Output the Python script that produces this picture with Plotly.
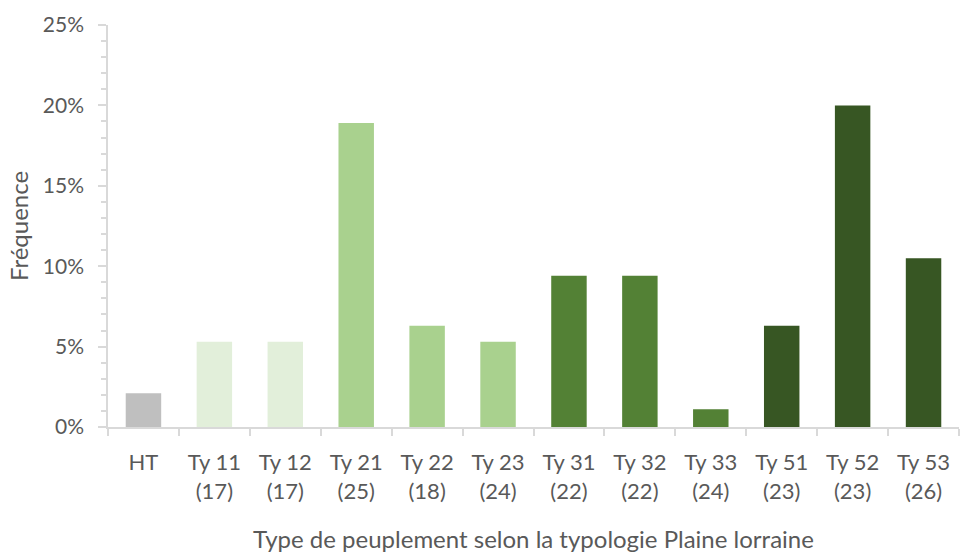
import plotly.graph_objs as go

categories = ["HT", "Ty 11<br>(17)", "Ty 12<br>(17)", "Ty 21<br>(25)", "Ty 22<br>(18)",
              "Ty 23<br>(24)", "Ty 31<br>(22)", "Ty 32<br>(22)", "Ty 33<br>(24)",
              "Ty 51<br>(23)", "Ty 52<br>(23)", "Ty 53<br>(26)"]
frequences = [0.021, 0.053, 0.053, 0.189, 0.063, 0.053, 0.094, 0.094, 0.011, 0.063, 0.200, 0.105]
bar_colors = ["#bfbfbf", "#e2efda", "#e2efda", "#a9d18e", "#a9d18e", "#a9d18e",
              "#538135", "#538135", "#538135", "#375623", "#375623", "#375623"]

font_family = "Lato, 'Open Sans', sans-serif"
axis_grey = "#d9d9d9"
text_grey = "#595959"

fig = go.Figure()

fig.add_trace(go.Bar(
    x=categories,
    y=frequences,
    marker=dict(color=bar_colors, line=dict(width=0)),
    hovertemplate="%{x}: %{y:.1%}<extra></extra>",
))

fig.update_layout(
    width=962,
    height=553,
    margin=dict(l=108, r=3, t=25, b=126),
    plot_bgcolor="white",
    paper_bgcolor="white",
    bargap=0.5,
    showlegend=False,
    font=dict(family=font_family, color=text_grey, size=21),
    xaxis=dict(
        title=dict(text="Type de peuplement selon la typologie Plaine lorraine",
                   font=dict(size=24, color=text_grey), standoff=30),
        showline=True,
        linecolor=axis_grey,
        linewidth=1.5,
        ticks="outside",
        tickson="boundaries",
        ticklen=7,
        tickcolor=axis_grey,
        tickwidth=1.5,
        showgrid=False,
        tickfont=dict(size=22, color=text_grey),
        ticklabelstandoff=15,
        automargin=False,
    ),
    yaxis=dict(
        title=dict(text="Fréquence", font=dict(size=24, color=text_grey), standoff=7),
        range=[0, 0.25],
        dtick=0.05,
        tickformat=".0%",
        showline=True,
        linecolor=axis_grey,
        linewidth=1.5,
        ticks="outside",
        ticklen=8,
        tickcolor=axis_grey,
        tickwidth=1.5,
        showgrid=False,
        zeroline=False,
        tickfont=dict(size=21, color=text_grey),
        ticklabelstandoff=10,
        minor=dict(ticks="outside", ticklen=5, dtick=0.01, tickcolor=axis_grey, tickwidth=1.5),
        automargin=False,
    ),
)

fig.write_html("out.html", config={"displayModeBar": False},
               post_script="document.body.style.margin='0';")
